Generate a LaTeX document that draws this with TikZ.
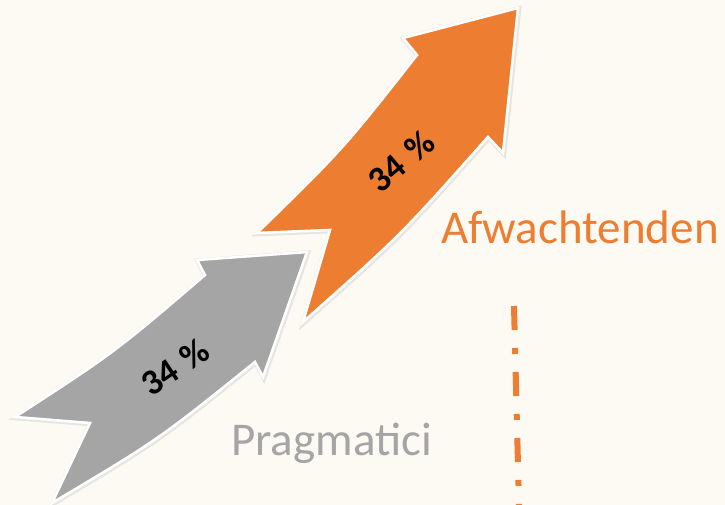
\documentclass[tikz,border=0pt]{standalone}
\usepackage{fontspec}
\setmainfont{Carlito}
\definecolor{bgc}{HTML}{FDFAF3}
\definecolor{orng}{HTML}{ED7D31}
\definecolor{gry}{HTML}{A5A5A5}
\tikzset{
  arrowshape/.style={draw=white, line width=2.6pt, line join=miter},
  shadowshape/.style={draw=black!25, line width=5pt, opacity=0.35},
  pct/.style={font=\fontsize{36}{42}\selectfont\bfseries, text=black, inner sep=0pt},
  lbl/.style={font=\fontsize{47}{56}\selectfont, inner sep=0pt, anchor=base west},
  dashdot/.style={draw=orng, line width=6pt, dash pattern=on 24pt off 18pt on 6pt off 18pt}
}
\begin{document}
\begin{tikzpicture}[x=1pt,y=-1pt]
\fill[bgc] (0,0) rectangle (725,505);
\useasboundingbox (0,0) rectangle (725,505);
\def\grayarrow{(15,417) .. controls (115,352) .. (205,275) -- (197,260) -- (307,252) -- (263,377) -- (255,362) .. controls (158,440) .. (52,503) -- (90,423) -- cycle}
\def\orangearrow{(257,233) .. controls (343,149) .. (417,55) -- (403,38) -- (518,8) -- (503,153) -- (488,137) .. controls (401,235) .. (303,322) -- (330,230) -- cycle}
\path[shadowshape, transform canvas={shift={(0.8pt,-0.8pt)}}] \grayarrow;
\path[arrowshape, fill=gry] \grayarrow;
\path[shadowshape, transform canvas={shift={(0.8pt,-0.8pt)}}] \orangearrow;
\path[arrowshape, fill=orng] \orangearrow;
\node[pct, rotate=34] (p1) at (175,367) {34\hspace{0.32em}\%};
\node[pct, rotate=40] (p2) at (401,161) {34\hspace{0.32em}\%};
\node[lbl, text=orng] (afw) at (441,243) {Afwachtenden};
\node[lbl, text=gry] (prag) at (231,455) {Pragmatici};
\coordinate (lt) at (514,306);
\coordinate (lb) at (519,505);
\draw[dashdot] (lt) -- (lb);
\end{tikzpicture}
\end{document}
